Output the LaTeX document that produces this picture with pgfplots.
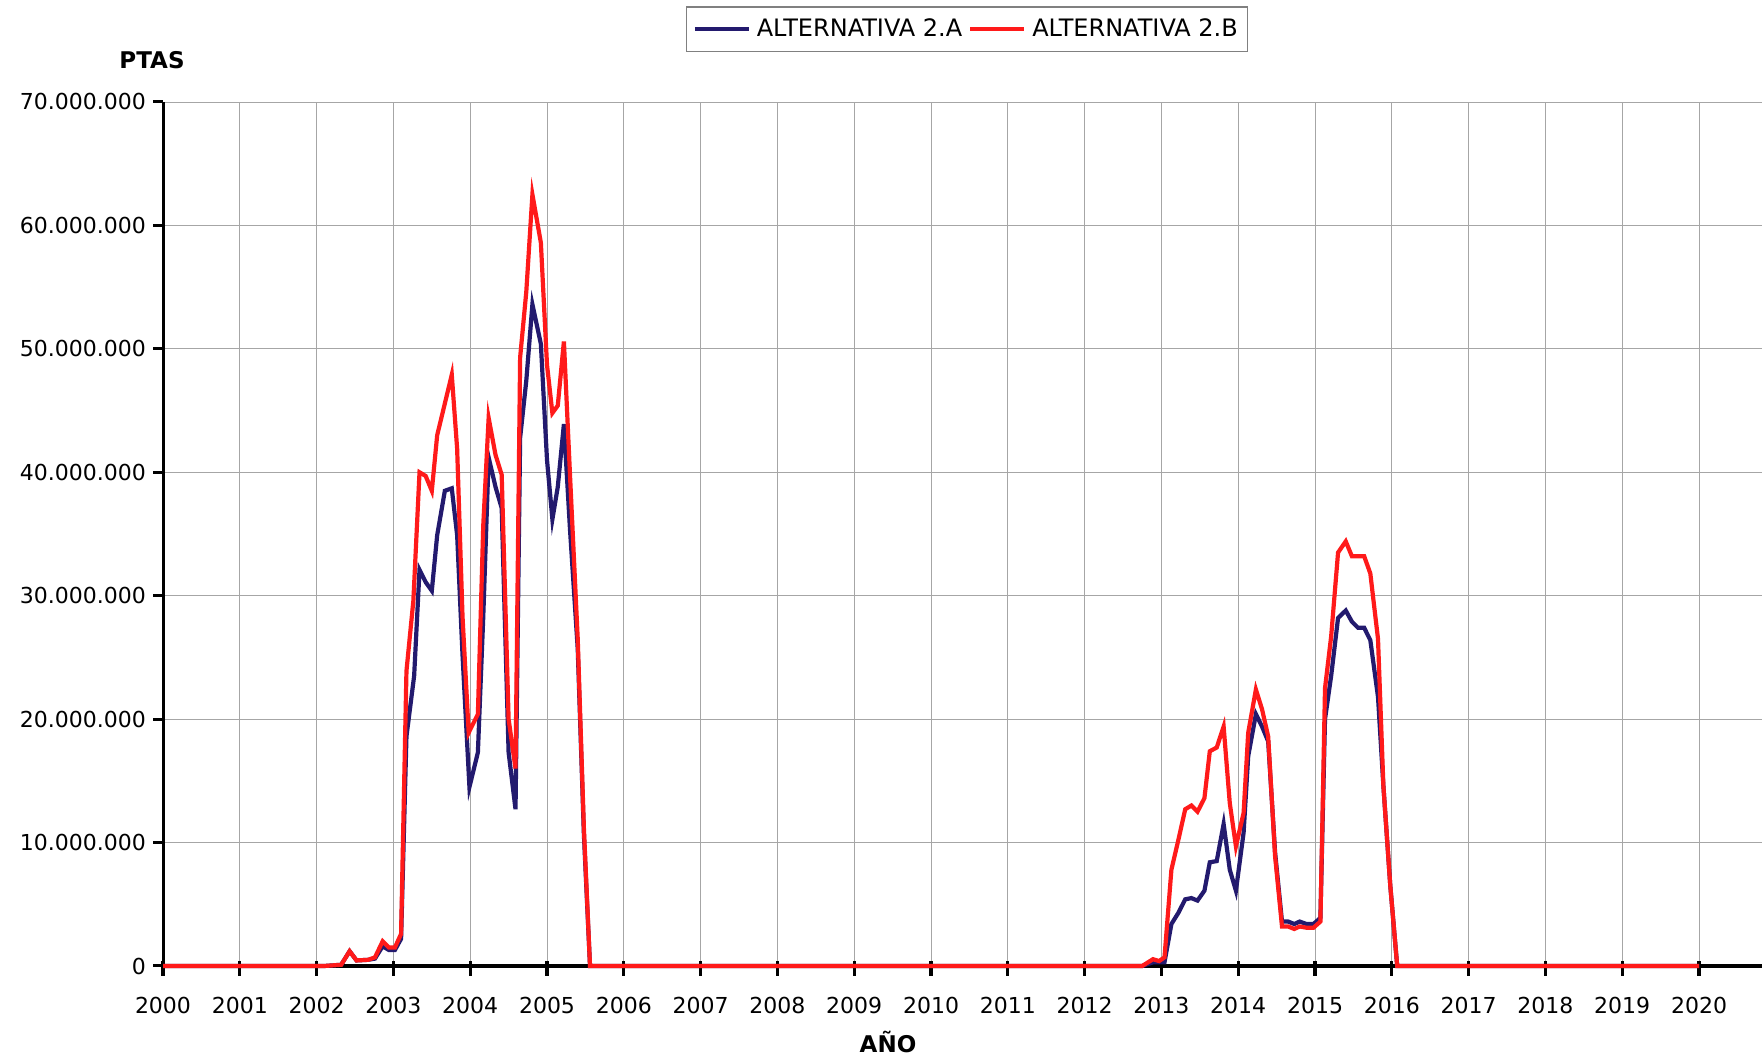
\documentclass[border=0pt]{standalone}
\usepackage{pgfplots}
\pgfplotsset{compat=1.18}
\usepackage{fontspec}
\setmainfont{DejaVu Sans}
\definecolor{navyA}{HTML}{231A6E}
\definecolor{redB}{HTML}{FF1A1A}
\begin{document}
\begin{tikzpicture}
\useasboundingbox (0pt,0pt) rectangle (881pt,529.5pt);
\begin{axis}[
  at={(81.5pt,46.5pt)}, anchor=south west,
  scale only axis, width=799.5pt, height=432pt,
  xmin=2000, xmax=2020.82, ymin=0, ymax=70,
  clip=false,
  axis line style={draw=none},
  xtick pos=bottom, ytick pos=left,
  xtick={2000,2001,...,2020},
  xticklabels={2000,2001,2002,2003,2004,2005,2006,2007,2008,2009,2010,2011,2012,2013,2014,2015,2016,2017,2018,2019,2020},
  ytick={0,10,...,70},
  yticklabels={0,10.000.000,20.000.000,30.000.000,40.000.000,50.000.000,60.000.000,70.000.000},
  major tick length=0pt,
  ticklabel style={font=\fontsize{11}{13}\selectfont},
  xticklabel style={yshift=-12pt},
  yticklabel style={xshift=-5pt},
  grid=major,
  major grid style={gray!70, line width=0.4pt},
  legend style={at={(0.503,1.084)}, anchor=center, legend columns=2,
    draw=gray, line width=0.6pt, font=\fontsize{12}{14}\selectfont,
    inner xsep=3pt, inner ysep=4pt, column sep=1pt},
  legend image code/.code={\draw[#1, line width=2pt] (0pt,0pt) -- (27pt,0pt);},
]
\draw[black, line width=1.5pt] (rel axis cs:0,0) -- (rel axis cs:0,1);
\draw[black, line width=2pt] (rel axis cs:0,0) -- (rel axis cs:1,0);
\pgfplotsinvokeforeach{2000,2001,...,2020}{
  \draw[black, line width=1.6pt] ([yshift=2.5pt]axis cs:#1,0) -- ([yshift=-5pt]axis cs:#1,0);
}
\pgfplotsinvokeforeach{0,10,...,70}{
  \draw[black, line width=1.5pt] (axis cs:2000,#1) -- ([xshift=-5pt]axis cs:2000,#1);
}
\addplot[navyA, line width=2.1pt] coordinates {
(2000,0) (2002.1,0) (2002.32,0.1) (2002.43,1.2) (2002.52,0.45) (2002.67,0.5) (2002.76,0.6)
(2002.86,1.6) (2002.94,1.3) (2003.02,1.3) (2003.1,2.2) (2003.17,18.6) (2003.27,23.5)
(2003.34,32.1) (2003.42,31.1) (2003.5,30.4) (2003.57,34.9) (2003.67,38.5) (2003.76,38.7)
(2003.83,34.9) (2003.9,25.2) (2003.99,14.5) (2004.1,17.3) (2004.17,28.3) (2004.24,41.2)
(2004.33,38.8) (2004.41,37.1) (2004.5,17.3) (2004.59,12.7) (2004.65,42.8) (2004.73,47.4)
(2004.81,53.6) (2004.92,50.4) (2005.0,41.0) (2005.07,36.2) (2005.14,38.8) (2005.22,43.9)
(2005.3,35.3) (2005.4,25.7) (2005.48,10.7) (2005.56,0) (2012.75,0) (2012.89,0.3)
(2013.04,0.3) (2013.13,3.4) (2013.22,4.3) (2013.31,5.4) (2013.39,5.5) (2013.47,5.3)
(2013.56,6.1) (2013.63,8.4) (2013.72,8.5) (2013.81,11.5) (2013.89,7.8) (2013.97,6.1)
(2014.07,10.8) (2014.13,17.0) (2014.23,20.4) (2014.31,19.4) (2014.39,18.2) (2014.48,9.2)
(2014.57,3.6) (2014.65,3.6) (2014.73,3.4) (2014.8,3.6) (2014.89,3.4) (2014.98,3.4)
(2015.07,3.9) (2015.13,20.0) (2015.21,23.5) (2015.3,28.2) (2015.4,28.8) (2015.48,27.9)
(2015.56,27.4) (2015.64,27.4) (2015.72,26.4) (2015.82,21.8) (2015.89,14.6) (2015.98,6.5)
(2016.07,0) (2020,0)
};
\addlegendentry{ALTERNATIVA 2.A}
\addplot[redB, line width=2.1pt] coordinates {
(2000,0) (2002.1,0) (2002.32,0.1) (2002.43,1.2) (2002.52,0.45) (2002.67,0.5) (2002.76,0.7)
(2002.86,2.0) (2002.94,1.5) (2003.02,1.5) (2003.1,2.6) (2003.17,23.9) (2003.26,29.6)
(2003.34,40.0) (2003.42,39.7) (2003.5,38.5) (2003.57,43.0) (2003.76,47.9) (2003.83,41.9)
(2003.9,28.3) (2003.98,18.9) (2004.1,20.4) (2004.17,35.7) (2004.24,44.4) (2004.33,41.4)
(2004.41,39.8) (2004.5,20.0) (2004.59,16.0) (2004.65,49.3) (2004.73,54.6) (2004.81,62.5)
(2004.92,58.6) (2005.0,48.7) (2005.07,44.8) (2005.14,45.4) (2005.22,50.6) (2005.3,39.7)
(2005.4,26.5) (2005.48,11.2) (2005.56,0) (2012.75,0) (2012.89,0.55) (2012.97,0.4)
(2013.04,0.7) (2013.13,7.8) (2013.22,10.2) (2013.31,12.7) (2013.39,13.0) (2013.47,12.5)
(2013.56,13.6) (2013.63,17.4) (2013.72,17.7) (2013.81,19.4) (2013.89,13.2) (2013.97,9.7)
(2014.07,12.4) (2014.13,18.9) (2014.23,22.4) (2014.31,20.8) (2014.39,18.6) (2014.48,8.9)
(2014.57,3.2) (2014.65,3.2) (2014.73,3.0) (2014.8,3.2) (2014.89,3.1) (2014.98,3.1)
(2015.07,3.6) (2015.13,22.5) (2015.21,26.7) (2015.3,33.5) (2015.4,34.4) (2015.48,33.2)
(2015.64,33.2) (2015.72,31.8) (2015.82,26.5) (2015.89,14.6) (2015.98,6.5) (2016.07,0)
(2020,0)
};
\addlegendentry{ALTERNATIVA 2.B}
\end{axis}
\node[font=\bfseries\fontsize{11.5}{13}\selectfont] at (76pt,499.5pt) {PTAS};
\node[font=\bfseries\fontsize{11.5}{13}\selectfont] at (444pt,8.5pt) {AÑO};
\end{tikzpicture}
\end{document}
